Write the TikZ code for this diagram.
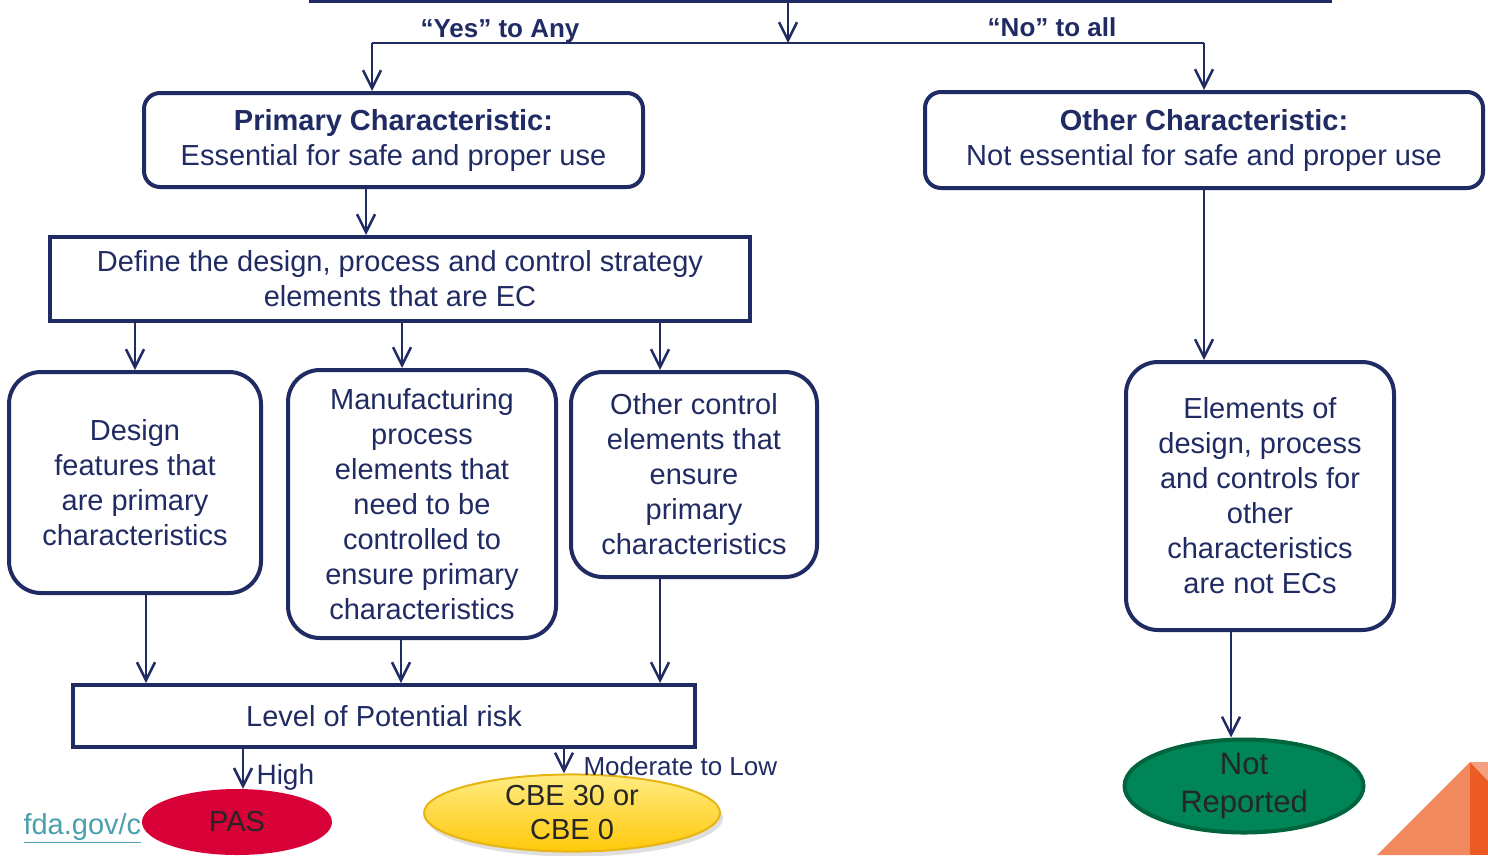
\documentclass[tikz,border=0pt]{standalone}
\usepackage{fontspec}
\setmainfont{Liberation Sans}
\usetikzlibrary{arrows.meta,shapes.geometric,shadows}
\definecolor{navy}{RGB}{33,43,99}
\definecolor{inktext}{RGB}{38,38,38}
\definecolor{pasred}{RGB}{215,0,55}
\definecolor{cbetop}{RGB}{255,236,130}
\definecolor{cbebot}{RGB}{255,200,10}
\definecolor{cbeline}{RGB}{230,180,20}
\definecolor{nrgreen}{RGB}{0,133,88}
\definecolor{nrline}{RGB}{0,100,60}
\definecolor{linkteal}{RGB}{74,160,173}
\definecolor{orangeL}{RGB}{242,137,94}
\definecolor{orangeD}{RGB}{236,91,36}
\definecolor{orangeP}{RGB}{244,160,126}

\begin{document}
\begin{tikzpicture}[x=1pt,y=-1pt,
  box/.style={draw=navy, line width=4pt, fill=white, text=navy, align=center,
    inner sep=0pt, font=\fontsize{29}{35}\selectfont},
  rbox/.style={box, rounded corners=16pt},
  tbox/.style={box, rounded corners=32pt},
  arr/.style={draw=navy, line width=2.5pt, -{Straight Barb[length=18pt,width=18pt]}},
  lbl/.style={text=navy, font=\fontsize{27}{32}\selectfont},
  oval/.style={ellipse, inner sep=0pt, text=inktext, align=center,
    font=\fontsize{29}{34}\selectfont}]
  \useasboundingbox (0,0) rectangle (1488,855);

  % box of the step above, only its lower edge shows
  \node[draw=navy, line width=3pt, minimum width=1020pt, minimum height=60pt, inner sep=0pt] (prev) at (820,-29) {};

  \coordinate (split) at (788,43);
  \coordinate (yes) at (372,43);
  \coordinate (no) at (1204,43);
  \draw[arr] (prev.south -| split) -- (split);
  \draw[navy, line width=2.5pt] (yes) -- (no);
  \node[lbl, font=\bfseries\fontsize{26}{30}\selectfont] (yeslbl) at (500,31) {“Yes” to Any};
  \node[lbl, font=\bfseries\fontsize{26}{30}\selectfont] (nolbl) at (1052,27) {“No” to all};

  % first level
  \node[rbox, minimum width=499pt, minimum height=94pt] (primary) at (393.5,140)
    {\textbf{Primary Characteristic:}\\Essential for safe and proper use};
  \node[rbox, minimum width=558pt, minimum height=96pt] (other) at (1204,140)
    {\textbf{Other Characteristic:}\\Not essential for safe and proper use};
  \draw[arr] (yes) -- (primary.north -| yes);
  \draw[arr] (no) -- (other.north);

  \node[box, minimum width=700pt, minimum height=84pt] (define) at (400,279)
    {Define the design, process and control strategy\\elements that are EC};
  \coordinate (c0) at (366,0);
  \draw[arr] (primary.south -| c0) -- (define.north -| c0);

  % the three kinds of elements
  \node[tbox, minimum width=252pt, minimum height=221pt] (design) at (135,482.5)
    {Design\\features that\\are primary\\characteristics};
  \node[tbox, minimum width=268pt, minimum height=268pt] (manuf) at (422,504)
    {Manufacturing\\process\\elements that\\need to be\\controlled to\\ensure primary\\characteristics};
  \node[tbox, minimum width=246pt, minimum height=205pt] (ctrl) at (694,474.5)
    {Other control\\elements that\\ensure\\primary\\characteristics};
  \coordinate (c1) at (135,0);
  \coordinate (c2) at (402,0);
  \coordinate (c3) at (660,0);
  \draw[arr] (define.south -| c1) -- (design.north -| c1);
  \draw[arr] (define.south -| c2) -- (manuf.north -| c2);
  \draw[arr] (define.south -| c3) -- (ctrl.north -| c3);

  \node[box, minimum width=622pt, minimum height=62pt] (level) at (384,716)
    {Level of Potential risk};
  \coordinate (d1) at (146,0);
  \coordinate (d2) at (401,0);
  \draw[arr] (design.south -| d1) -- (level.north -| d1);
  \draw[arr] (manuf.south -| d2) -- (level.north -| d2);
  \draw[arr] (ctrl.south -| c3) -- (level.north -| c3);

  % outcomes
  \node[anchor=west, text=linkteal, font=\fontsize{29}{34}\selectfont] (fda) at (20,828) {\underline{fda.gov/c}};
  \node[oval, fill=pasred, minimum width=190pt, minimum height=66pt] (pas) at (237,822) {PAS};
  \node[oval, draw=cbeline, line width=2pt, top color=cbetop, bottom color=cbebot,
    drop shadow={opacity=0.25, shadow xshift=3pt, shadow yshift=-5pt},
    minimum width=296pt, minimum height=69pt] (cbe) at (572,813) {CBE 30 or\\CBE 0};
  \coordinate (hi) at (243,0);
  \coordinate (mod) at (564,0);
  \draw[arr] (level.south -| hi) -- (pas.north -| hi);
  \draw[arr] (level.south -| mod) -- (cbe.north -| mod);
  \node[lbl, anchor=west, font=\fontsize{28}{32}\selectfont] (highlbl) at (253,777) {High};
  \node[lbl, anchor=west, font=\fontsize{26}{30}\selectfont] (modlbl) at (580,766) {Moderate to Low};

  % right branch
  \node[tbox, minimum width=268pt, minimum height=268pt] (elements) at (1260,496)
    {Elements of\\design, process\\and controls for\\other\\characteristics\\are not ECs};
  \draw[arr] (other.south) -- (elements.north -| other.south);
  \node[oval, draw=nrline, line width=4pt, fill=nrgreen, minimum width=239pt, minimum height=91pt,
    font=\fontsize{31}{38}\selectfont] (notrep) at (1244,786) {Not\\Reported};
  \coordinate (e1) at (1231,0);
  \draw[arr] (elements.south -| e1) -- (notrep.north -| e1);

  % corner decoration
  \fill[orangeL] (1377,855) -- (1470,762) -- (1470,855) -- cycle;
  \fill[orangeD] (1470,762) -- (1488,762) -- (1488,855) -- (1470,855) -- cycle;
  \fill[orangeP] (1470,762) -- (1488,762) -- (1488,781) -- cycle;
\end{tikzpicture}
\end{document}
